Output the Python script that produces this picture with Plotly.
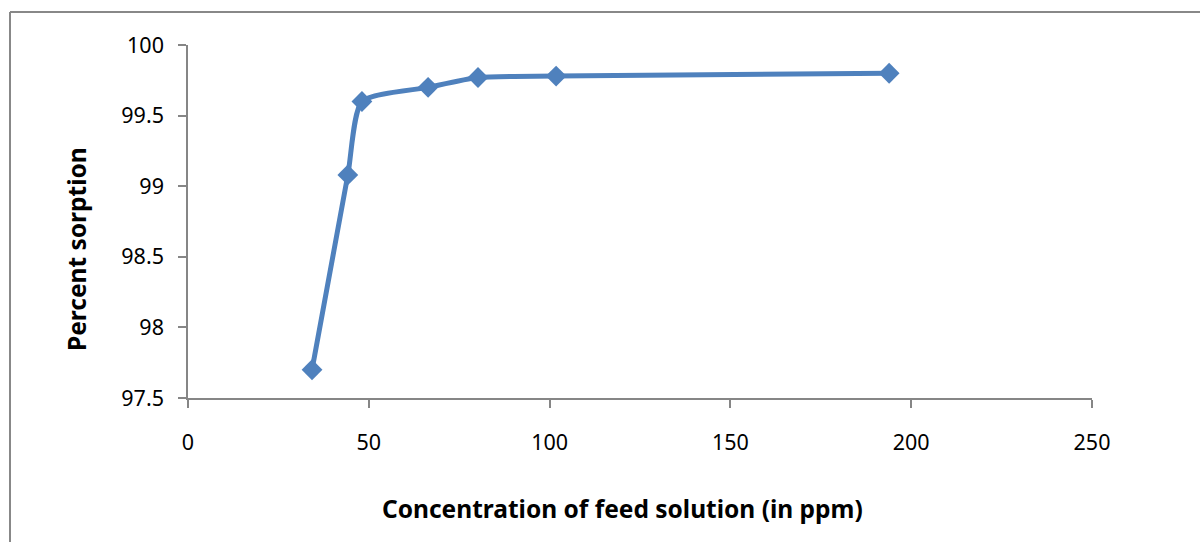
import plotly.graph_objects as go

concentration = [34.3, 44.2, 48.1, 66.4, 80.2, 101.8, 193.9]
percent_sorption = [97.7, 99.08, 99.6, 99.7, 99.77, 99.78, 99.8]
x_ticks = [0, 50, 100, 150, 200, 250]
y_ticks = [97.5, 98, 98.5, 99, 99.5, 100]

W, H = 1200, 542
L, R, T, B = 188, 108, 45, 144

fig = go.Figure()
fig.add_trace(go.Scatter(
    x=concentration, y=percent_sorption, mode="lines+markers",
    line=dict(color="#4F81BD", width=5, shape="spline", smoothing=0.6),
    marker=dict(symbol="diamond", size=16, color="#4F81BD"),
    showlegend=False,
))

axis_font = dict(family="Noto Sans, Open Sans, sans-serif", size=21.5, color="#000000")
fig.update_xaxes(
    range=[0, 250], tickvals=x_ticks, ticktext=[str(v) for v in x_ticks],
    showgrid=False, zeroline=False, showline=True, linecolor="#868686", linewidth=1.5,
    ticks="outside", ticklen=8, tickcolor="#868686", tickwidth=1.5,
    tickfont=axis_font, ticklabelstandoff=16,
)
fig.update_yaxes(
    range=[97.5, 100], tickvals=y_ticks, ticktext=[f"{v:g}" for v in y_ticks],
    showgrid=False, zeroline=False, showline=True, linecolor="#868686", linewidth=1.5,
    ticks="outside", ticklen=8, tickcolor="#868686", tickwidth=1.5,
    tickfont=axis_font, ticklabelstandoff=10,
)

title_font = dict(family="Noto Sans, Open Sans, sans-serif", size=24.5, color="#000000")
fig.add_annotation(
    text="<b>Concentration of feed solution (in ppm)</b>", xref="paper", yref="paper",
    x=(622 - L) / (W - L - R), y=-(508 - (H - B)) / (H - T - B), showarrow=False,
    font=title_font, xanchor="center", yanchor="middle",
)
fig.add_annotation(
    text="<b>Percent sorption</b>", xref="paper", yref="paper", textangle=-90,
    x=-(L - 76) / (W - L - R), y=1 - (249 - T) / (H - T - B), showarrow=False,
    font=title_font, xanchor="center", yanchor="middle",
)

# outer chart border (top and left edges visible)
pw, ph = W - L - R, H - T - B
def px(xp): return (xp - L) / pw
def py(yp): return 1 - (yp - T) / ph
fig.add_shape(type="line", xref="paper", yref="paper", x0=px(10), x1=px(1205), y0=py(12), y1=py(12),
              line=dict(color="#888888", width=2))
fig.add_shape(type="line", xref="paper", yref="paper", x0=px(10), x1=px(10), y0=py(12), y1=py(550),
              line=dict(color="#888888", width=2))

fig.update_layout(
    width=W, height=H, margin=dict(l=L, r=R, t=T, b=B),
    paper_bgcolor="white", plot_bgcolor="white",
)
fig.write_html("out.html", config={"displayModeBar": False},
               post_script="document.body.style.margin='0';document.body.style.overflow='hidden';")
